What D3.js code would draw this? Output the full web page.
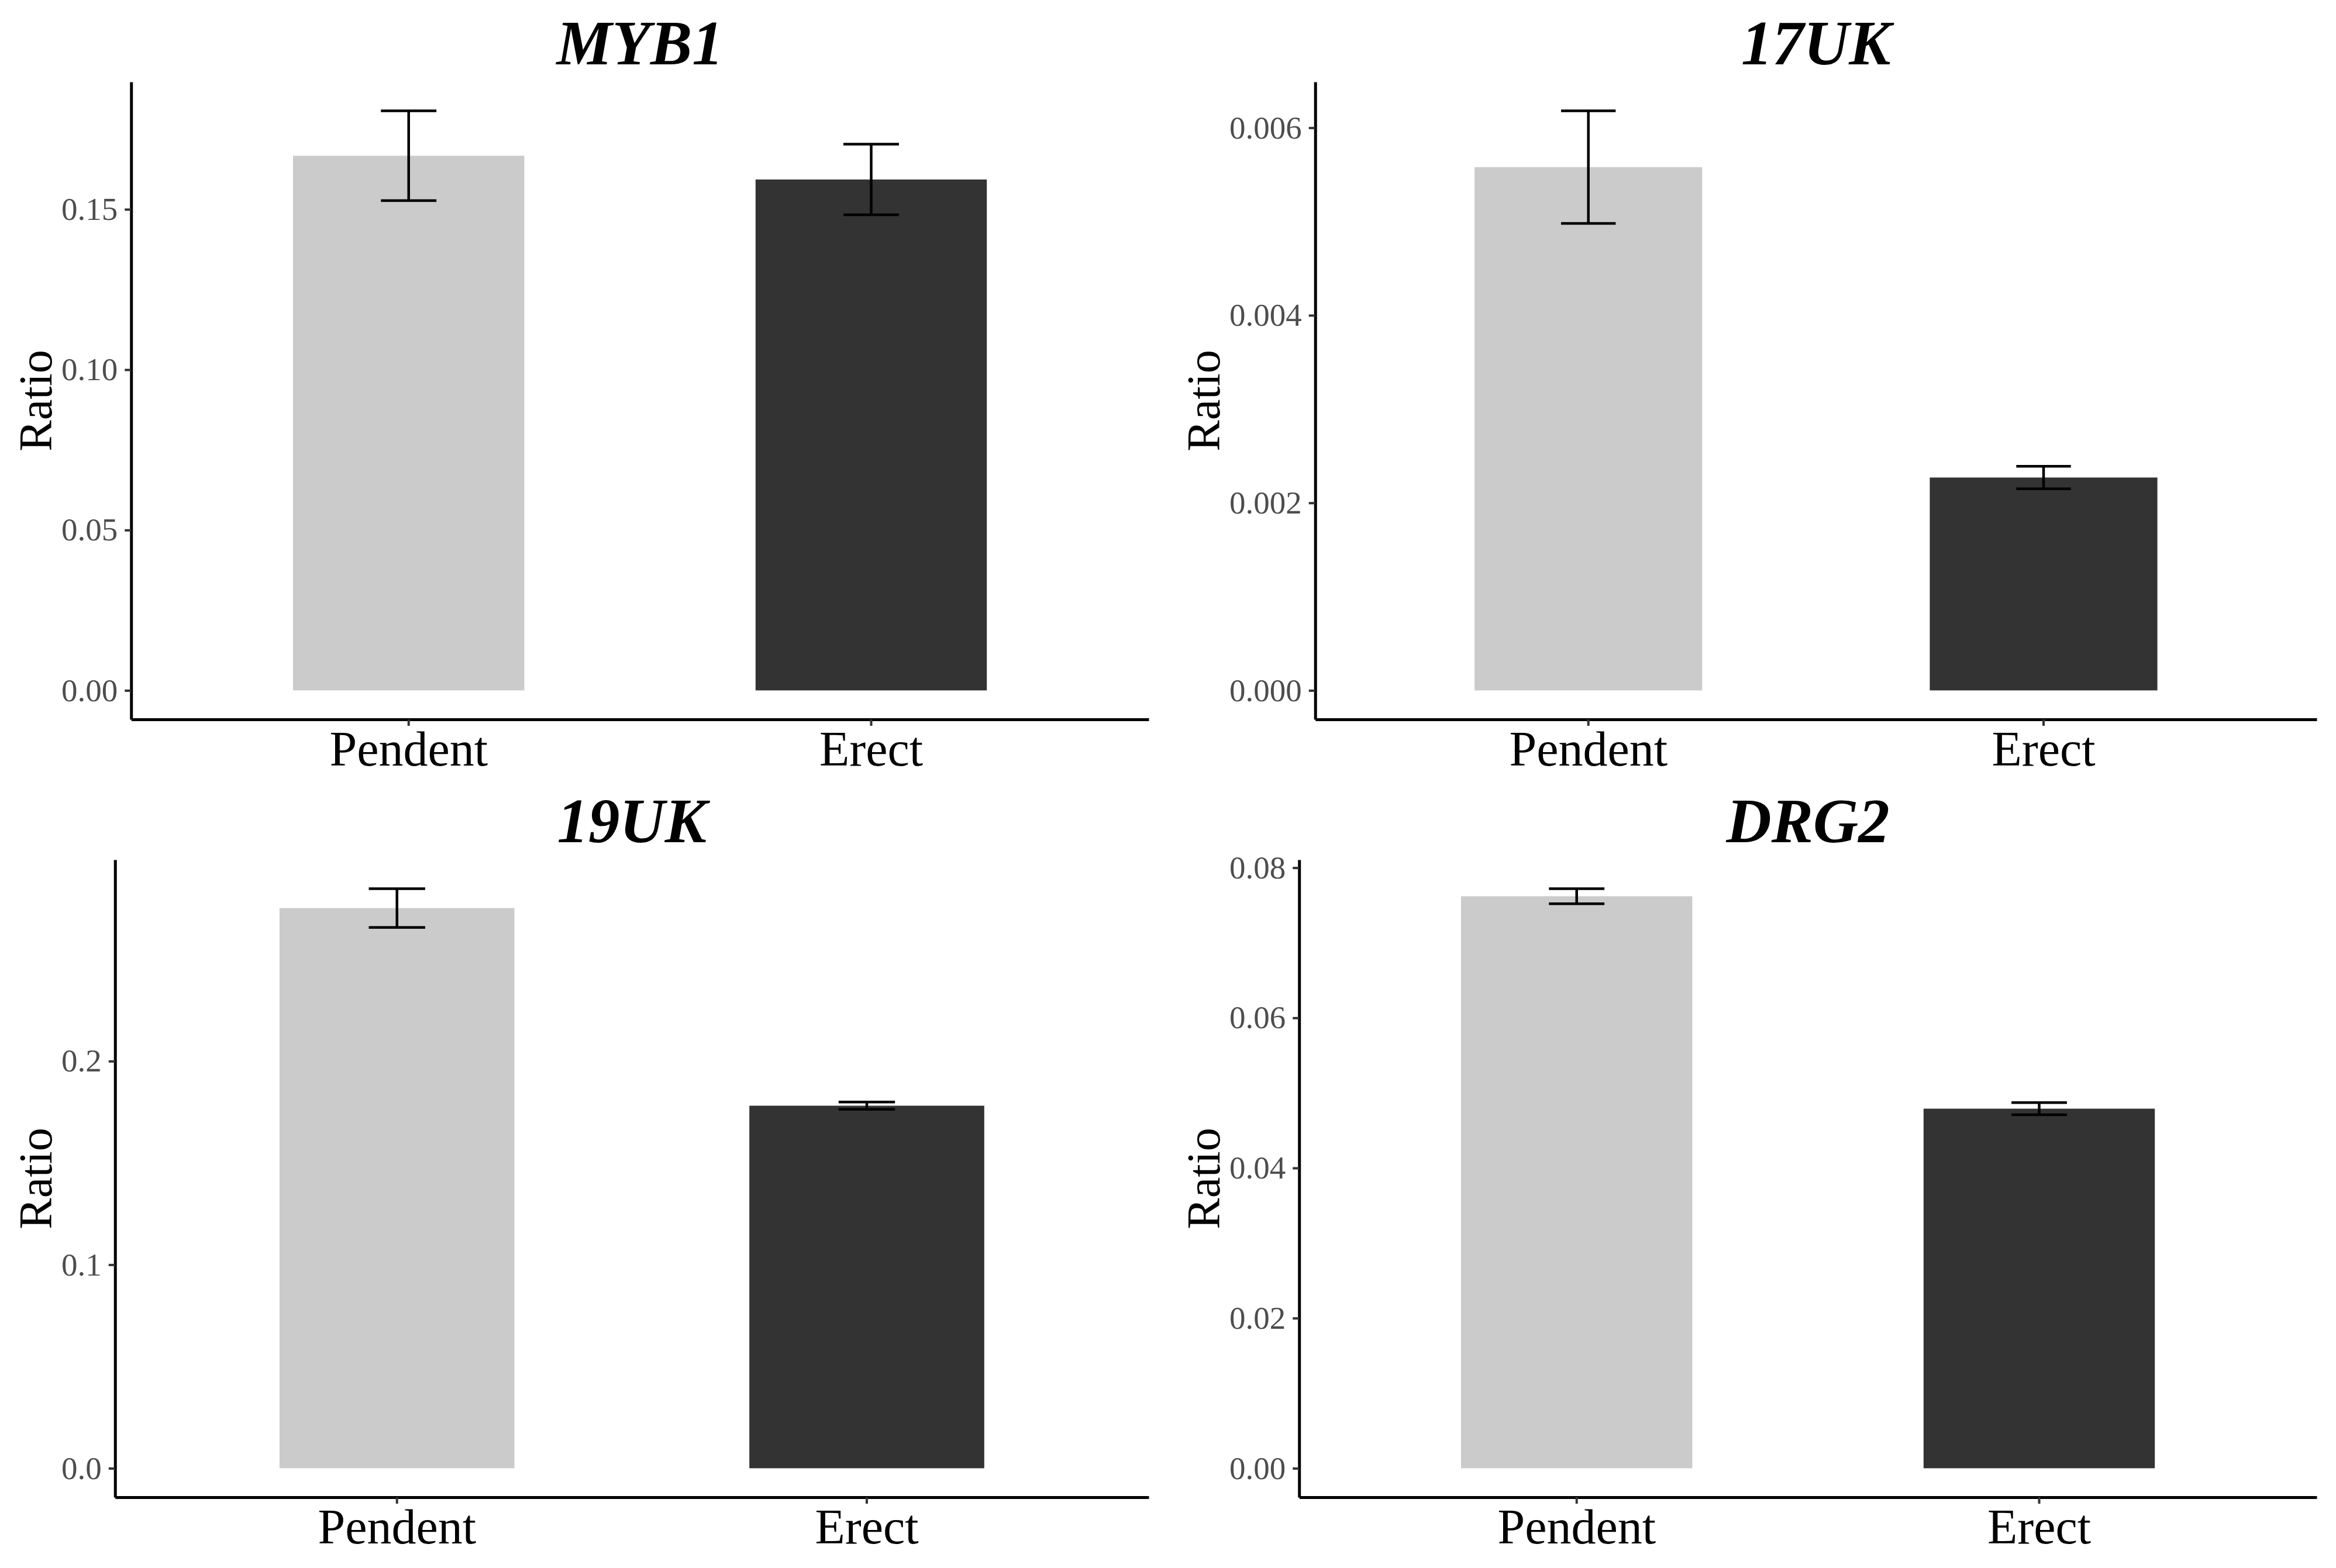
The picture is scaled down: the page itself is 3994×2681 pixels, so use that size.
<!DOCTYPE html>
<html>
<head>
<meta charset="utf-8">
<script src="https://cdn.jsdelivr.net/npm/d3@7"></script>
<style>
  body { margin: 0; background: #fff; }
  text { font-family: "Liberation Serif", "Times New Roman", serif; }
</style>
</head>
<body>
<script>
// data
var genes = ["MYB1", "17UK", "19UK", "DRG2"]
var groups = ["Pendent", "Erect"]
var means = [
  [0.1667, 0.1593],
  [0.00558, 0.00227],
  [0.2752, 0.1781],
  [0.0762, 0.0479]
]
var ses = [
  [0.0140, 0.0110],
  [0.00060, 0.00012],
  [0.0095, 0.0018],
  [0.0010, 0.0008]
]
var ticks = [
  [0, 0.05, 0.10, 0.15],
  [0, 0.002, 0.004, 0.006],
  [0, 0.1, 0.2],
  [0, 0.02, 0.04, 0.06, 0.08]
]
var tickFormats = [".2f", ".3f", ".1f", ".2f"]
var colors = ["#cbcbcb", "#333333"]

var W = 3994, H = 2681,
    panelW = 1997, panelH = 1330,
    plotTop = 140, plotBottom = 1230, rightPad = 33,
    ratioX = 60, tickLen = 11, tickGap = 12

var svg = d3.select("body").append("svg")
    .attr("width", W)
    .attr("height", H)

svg.append("rect").attr("width", W).attr("height", H).attr("fill", "#fff")

genes.forEach(function(gene, gi) {
  var col = gi % 2, row = Math.floor(gi / 2)
  var g = svg.append("g")
      .attr("transform", "translate(" + (col * panelW) + "," + (row * panelH) + ")")

  var maxV = d3.max(means[gi], function(d, i) { return d + ses[gi][i] })
  var y = d3.scaleLinear()
      .domain([-0.05 * maxV, 1.05 * maxV])
      .range([plotBottom, plotTop])

  // measure widest tick label so the axis sits like ggplot's
  var fmt = d3.format(tickFormats[gi])
  var probe = g.append("text").style("font-size", "55px")
  var labW = d3.max(ticks[gi], function(t) { probe.text(fmt(t)); return probe.node().getComputedTextLength() })
  probe.remove()
  var left = 105 + labW + tickGap + tickLen

  var x = d3.scaleBand()
      .domain(groups)
      .range([left, panelW - rightPad])
      .paddingInner(0.5)
      .paddingOuter(0.35)

  var rows = groups.map(function(c, i) { return { group: c, mean: means[gi][i], se: ses[gi][i], i: i } })

  g.selectAll(".bar")
    .data(rows)
    .enter().append("rect")
      .attr("class", "bar")
      .attr("x", function(d) { return x(d.group) })
      .attr("y", function(d) { return y(d.mean) })
      .attr("width", x.bandwidth())
      .attr("height", function(d) { return y(0) - y(d.mean) })
      .attr("fill", function(d) { return colors[d.i] })

  var capW = x.step() * 0.12
  var eb = g.selectAll(".err")
    .data(rows)
    .enter().append("g")
      .attr("class", "err")
      .attr("stroke", "#000")
      .attr("stroke-width", 4.5)
  eb.append("line")
      .attr("x1", function(d) { return x(d.group) + x.bandwidth() / 2 })
      .attr("x2", function(d) { return x(d.group) + x.bandwidth() / 2 })
      .attr("y1", function(d) { return y(d.mean + d.se) })
      .attr("y2", function(d) { return y(d.mean - d.se) })
  eb.append("line")
      .attr("x1", function(d) { return x(d.group) + x.bandwidth() / 2 - capW / 2 })
      .attr("x2", function(d) { return x(d.group) + x.bandwidth() / 2 + capW / 2 })
      .attr("y1", function(d) { return y(d.mean + d.se) })
      .attr("y2", function(d) { return y(d.mean + d.se) })
  eb.append("line")
      .attr("x1", function(d) { return x(d.group) + x.bandwidth() / 2 - capW / 2 })
      .attr("x2", function(d) { return x(d.group) + x.bandwidth() / 2 + capW / 2 })
      .attr("y1", function(d) { return y(d.mean - d.se) })
      .attr("y2", function(d) { return y(d.mean - d.se) })

  var yAxis = g.append("g")
      .attr("transform", "translate(" + left + ",0)")
      .call(d3.axisLeft(y).tickValues(ticks[gi]).tickFormat(fmt)
        .tickSize(tickLen).tickSizeOuter(0).tickPadding(tickGap))
  yAxis.select(".domain").attr("stroke", "#000").attr("stroke-width", 5)
  yAxis.selectAll(".tick line").attr("stroke", "#333").attr("stroke-width", 4)
  yAxis.selectAll(".tick text")
      .attr("fill", "#4d4d4d")
      .style("font-size", "55px")
      .style("font-family", "Liberation Serif, serif")

  var xAxis = g.append("g")
      .attr("transform", "translate(0," + plotBottom + ")")
      .call(d3.axisBottom(x).tickSize(tickLen).tickSizeOuter(0).tickPadding(8))
  xAxis.select(".domain").attr("stroke", "#000").attr("stroke-width", 5)
  xAxis.selectAll(".tick line").attr("stroke", "#333").attr("stroke-width", 4)
  xAxis.selectAll(".tick text")
      .attr("fill", "#000")
      .style("font-size", "84px")
      .style("font-family", "Liberation Serif, serif")

  g.append("text")
      .attr("transform", "translate(" + ratioX + "," + ((plotTop + plotBottom) / 2) + ") rotate(-90)")
      .attr("text-anchor", "middle")
      .attr("dy", "0.35em")
      .style("font-size", "80px")
      .text("Ratio")

  g.append("text")
      .attr("x", (left + panelW - rightPad) / 2)
      .attr("y", plotTop - 30)
      .attr("text-anchor", "middle")
      .style("font-size", "107px")
      .style("font-weight", "bold")
      .style("font-style", "italic")
      .text(gene)
})
</script>
</body>
</html>
